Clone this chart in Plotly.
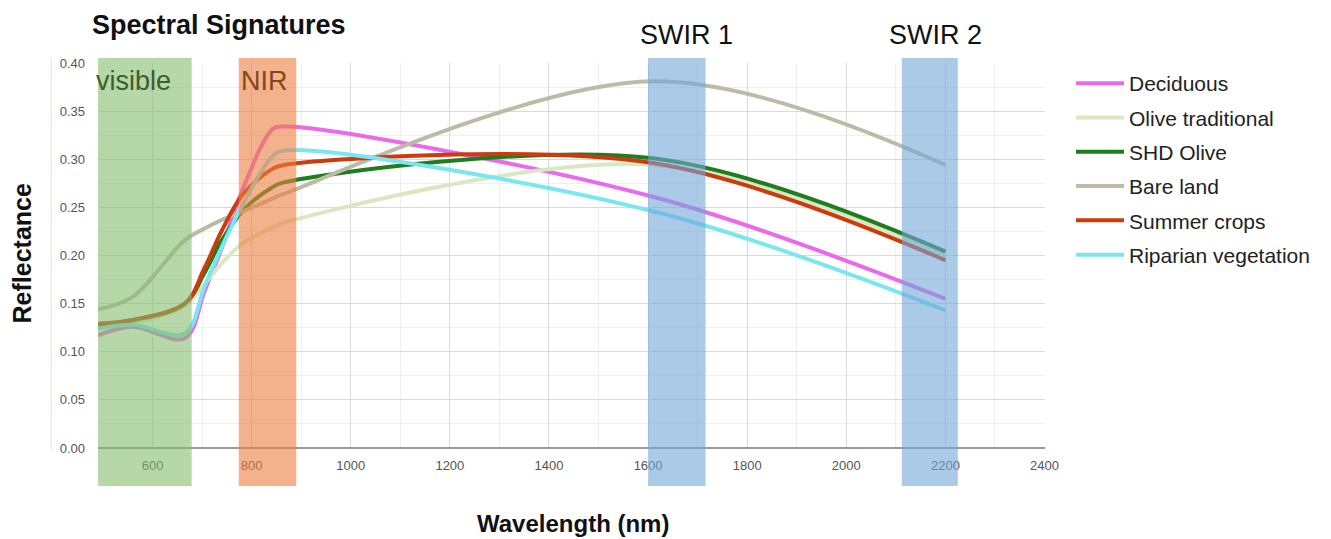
import plotly.graph_objects as go

# ---- data ----
wavelength = [490, 560, 665, 705, 740, 783, 842, 865, 1610, 2200]

deciduous = [0.117, 0.126, 0.114, 0.163, 0.208, 0.270, 0.331, 0.334, 0.261, 0.155]
olive_traditional = [0.126, 0.130, 0.148, 0.170, 0.192, 0.213, 0.229, 0.234, 0.294, 0.199]
shd_olive = [0.128, 0.133, 0.150, 0.182, 0.216, 0.247, 0.271, 0.276, 0.301, 0.204]
bare_land = [0.144, 0.157, 0.216, 0.228, 0.237, 0.246, 0.259, 0.264, 0.381, 0.294]
summer_crops = [0.129, 0.133, 0.150, 0.187, 0.226, 0.264, 0.290, 0.294, 0.296, 0.195]
riparian = [0.124, 0.128, 0.119, 0.168, 0.209, 0.254, 0.303, 0.309, 0.246, 0.143]

series_names = ["Deciduous", "Olive traditional", "SHD Olive", "Bare land",
                "Summer crops", "Riparian vegetation"]
series_values = [deciduous, olive_traditional, shd_olive, bare_land,
                 summer_crops, riparian]
series_colors = ["#ea6aea", "#d8e8c2", "#1f7d1f", "#bfbaa8", "#cc3b0c", "#7ae6f0"]

band_names = ["visible", "NIR", "SWIR 1", "SWIR 2"]
band_ranges = [(481, 679), (774, 890), (1600, 1716), (2112, 2225)]
band_fill = ["rgba(133,188,110,0.6)", "rgba(237,127,63,0.6)",
             "rgba(113,167,217,0.6)", "rgba(113,167,217,0.6)"]

x_ticks = [600, 800, 1000, 1200, 1400, 1600, 1800, 2000, 2200, 2400]
y_ticks = [0.0, 0.05, 0.10, 0.15, 0.20, 0.25, 0.30, 0.35, 0.40]

FONT = "Arial, 'Liberation Sans', sans-serif"
OFF = 8                      # page body margin of the html file
W, H = 1331 - OFF, 539 - OFF
ML, MR, MT, MB = 90, 281, 55, 91
PW, PH = W - ML - MR, H - MT - MB


def px_x(px):
    """page pixel x -> paper x"""
    return (px - OFF - ML) / PW


def px_y(py):
    """page pixel y -> paper y"""
    return (H - MB - (py - OFF)) / PH


fig = go.Figure()
for i, (name, vals, col) in enumerate(zip(series_names, series_values, series_colors)):
    fig.add_trace(go.Scatter(
        x=wavelength, y=vals, name=name, mode="lines",
        line=dict(color=col, width=4, shape="spline", smoothing=1.0),
        legendgroup=f"g{i}",
    ))

shapes = []
for (x0, x1), fc in zip(band_ranges, band_fill):
    shapes.append(dict(type="rect", xref="x", yref="paper", x0=x0, x1=x1,
                       y0=px_y(486), y1=px_y(58), fillcolor=fc, line=dict(width=0),
                       layer="above"))
# thin frame line at left of the chart
shapes.append(dict(type="line", xref="paper", yref="paper", x0=px_x(51), x1=px_x(51),
                   y0=px_y(450), y1=px_y(58), line=dict(color="#e4e4e4", width=1),
                   layer="below"))

annotations = [
    dict(text=band_names[0], xref="paper", yref="paper", x=px_x(94), y=px_y(81),
         xanchor="left", yanchor="middle", showarrow=False,
         font=dict(family=FONT, size=27, color="#3e5e2b")),
    dict(text=band_names[1], xref="paper", yref="paper", x=px_x(240), y=px_y(81),
         xanchor="left", yanchor="middle", showarrow=False,
         font=dict(family=FONT, size=27, color="#86461c")),
    dict(text=band_names[2], xref="paper", yref="paper", x=px_x(690), y=px_y(35),
         xanchor="center", yanchor="middle", showarrow=False,
         font=dict(family=FONT, size=27, color="#111111")),
    dict(text=band_names[3], xref="paper", yref="paper", x=px_x(940), y=px_y(35),
         xanchor="center", yanchor="middle", showarrow=False,
         font=dict(family=FONT, size=27, color="#111111")),
    dict(text="<b>Wavelength (nm)</b>", xref="paper", yref="paper", x=px_x(576),
         y=px_y(523), xanchor="center", yanchor="middle", showarrow=False,
         font=dict(family=FONT, size=24, color="#111111")),
    dict(text="<b>Reflectance</b>", xref="paper", yref="paper",
         x=px_x(22), y=px_y(253), xanchor="center", yanchor="middle",
         textangle=-90, showarrow=False,
         font=dict(family=FONT, size=25, color="#111111")),
]

fig.update_layout(
    width=W, height=H,
    paper_bgcolor="white", plot_bgcolor="white",
    margin=dict(l=ML, r=MR, t=MT, b=MB),
    title=dict(text="<b>Spectral Signatures</b>", xref="container", yref="container",
               x=(92 - OFF) / W, y=1 - (25 - OFF) / H, xanchor="left", yanchor="middle",
               font=dict(family=FONT, size=27, color="#111111")),
    font=dict(family=FONT, color="#555555"),
    showlegend=True,
    legend=dict(xref="container", yref="container", x=(1071 - OFF) / W,
                y=1 - (63 - OFF) / H,
                xanchor="left", yanchor="top", traceorder="grouped",
                tracegroupgap=4, itemwidth=48,
                font=dict(family=FONT, size=21, color="#222222"),
                bgcolor="rgba(0,0,0,0)"),
    shapes=shapes,
    annotations=annotations,
)

fig.update_xaxes(
    range=[490, 2400], tickvals=x_ticks, ticks="", showline=False,
    showgrid=True, gridcolor="#d9d9d9", gridwidth=1,
    minor=dict(dtick=100, tick0=0, showgrid=True, gridcolor="#efefef", gridwidth=1),
    zeroline=False, ticklabelstandoff=8,
    tickfont=dict(family=FONT, size=13, color="#555555"),
)
fig.update_yaxes(
    range=[0, 0.4], tickvals=y_ticks, tickformat=".2f", ticks="",
    showgrid=True, gridcolor="#d9d9d9", gridwidth=1,
    minor=dict(dtick=0.025, tick0=0, showgrid=True, gridcolor="#efefef", gridwidth=1),
    zeroline=True, zerolinecolor="#9a9a9a", zerolinewidth=2,
    showline=False, ticklabelstandoff=12,
    tickfont=dict(family=FONT, size=13, color="#555555"),
)

fig.write_html("out.html")
